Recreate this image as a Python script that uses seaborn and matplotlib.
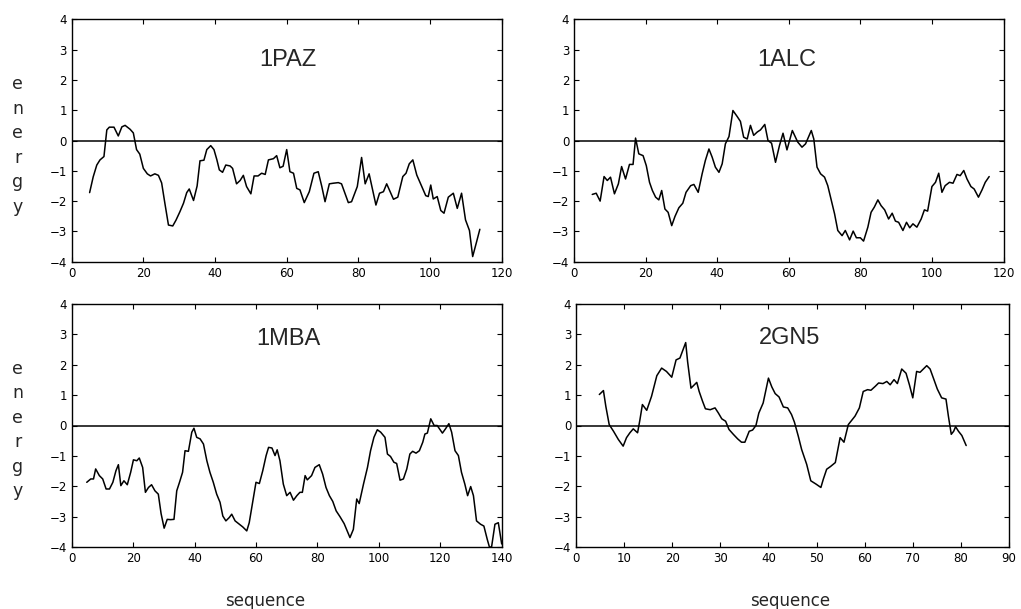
import matplotlib
matplotlib.use("Agg")
import matplotlib.pyplot as plt
import seaborn as sns
import pandas as pd
import numpy as np

# ---------------- data ----------------
titles = ["1PAZ", "1ALC", "1MBA", "2GN5"]
x_limits = [120, 120, 140, 90]
x_steps = [20, 20, 20, 10]
y_ticks = [-4, -3, -2, -1, 0, 1, 2, 3, 4]

paz_x = [5, 6, 7, 7.9, 9, 9.8, 10.5, 11.8, 13, 14,
         14.9, 16.3, 17.2, 18.1, 19, 20, 21.1, 22, 23.2, 24.2,
         25.1, 26, 27, 28.2, 29.1, 30.2, 31.2, 32.1, 32.8, 34,
         35, 35.8, 36.9, 37.7, 38.8, 39.7, 40.5, 41.2, 42.1, 43,
         44.2, 44.9, 46, 47, 47.9, 48.8, 50, 50.9, 52, 53,
         54, 54.9, 56.3, 57.2, 58.1, 59, 60, 60.9, 61.9, 62.8,
         63.7, 64.9, 66.3, 67.6, 68.8, 69.8, 70.7, 71.9, 73, 74.4,
         75.3, 77.2, 78.1, 79.7, 80.9, 81.9, 83, 84.9, 85.9, 87,
         87.9, 89.8, 91, 92.4, 93.3, 94.2, 95.2, 96.3, 97.7, 98.8,
         99.5, 100.2, 100.9, 102, 103, 103.9, 105.1, 106.5, 107.6, 108.8,
         109.9, 111, 111.9, 113, 113.9]
paz_y = [-1.72, -1.2, -0.81, -0.64, -0.53, 0.35, 0.44, 0.44, 0.15, 0.45,
         0.5, 0.37, 0.25, -0.3, -0.45, -0.92, -1.1, -1.17, -1.1, -1.15,
         -1.4, -2.07, -2.79, -2.82, -2.63, -2.35, -2.07, -1.72, -1.6, -1.98,
         -1.5, -0.67, -0.65, -0.3, -0.17, -0.3, -0.63, -0.97, -1.05, -0.81,
         -0.84, -0.92, -1.43, -1.32, -1.15, -1.52, -1.76, -1.17, -1.17, -1.08,
         -1.12, -0.64, -0.6, -0.5, -0.9, -0.85, -0.3, -1.03, -1.08, -1.58,
         -1.63, -2.05, -1.69, -1.08, -1.03, -1.52, -2.02, -1.43, -1.41, -1.39,
         -1.43, -2.05, -2.02, -1.52, -0.56, -1.43, -1.1, -2.13, -1.74, -1.69,
         -1.43, -1.94, -1.87, -1.19, -1.08, -0.77, -0.64, -1.14, -1.52, -1.82,
         -1.85, -1.47, -1.93, -1.85, -2.31, -2.4, -1.87, -1.74, -2.24, -1.74,
         -2.62, -2.97, -3.83, -3.34, -2.93]

alc_x = [5.1, 6.2, 7.3, 8.4, 9.3, 10.2, 11.3, 12.4, 13.3, 14.4,
         15.5, 16.5, 17.2, 18.1, 19.3, 20.2, 21.1, 21.9, 22.8, 23.7,
         24.5, 25.4, 26.3, 27.3, 28.2, 29.3, 30.4, 31.3, 32.6, 33.5,
         34.7, 35.8, 36.7, 37.7, 38.6, 39.5, 40.5, 41.4, 42.3, 43.3,
         44.4, 45.6, 46.5, 47.4, 48.4, 49.3, 50.2, 51.2, 52.1, 53.3,
         54.2, 55.2, 56.3, 57.4, 58.4, 59.5, 61, 62.5, 63.7, 64.7,
         66.3, 67, 67.9, 68.9, 70, 70.9, 71.8, 72.8, 73.7, 74.9,
         75.8, 77, 78, 78.9, 80, 80.9, 82.1, 83, 83.9, 84.9,
         85.8, 86.8, 87.9, 88.9, 89.8, 90.7, 91.9, 92.9, 93.8, 94.7,
         95.8, 97, 97.9, 98.8, 100, 101, 101.9, 102.8, 103.7, 104.9,
         105.9, 107, 107.9, 108.9, 109.8, 110.9, 111.8, 113, 114, 114.9,
         116]
alc_y = [-1.78, -1.74, -2.0, -1.19, -1.32, -1.21, -1.76, -1.43, -0.86, -1.27,
         -0.79, -0.79, 0.08, -0.44, -0.5, -0.83, -1.38, -1.65, -1.87, -1.96,
         -1.65, -2.26, -2.37, -2.81, -2.51, -2.22, -2.07, -1.71, -1.49, -1.45,
         -1.71, -1.1, -0.66, -0.28, -0.55, -0.88, -1.05, -0.77, -0.11, 0.13,
         0.99, 0.79, 0.63, 0.11, 0.05, 0.5, 0.17, 0.28, 0.35, 0.53,
         0.0, -0.09, -0.72, -0.17, 0.24, -0.31, 0.33, -0.05, -0.22, -0.11,
         0.33, 0.05, -0.88, -1.1, -1.21, -1.49, -1.93, -2.42, -2.97, -3.14,
         -2.97, -3.28, -2.99, -3.21, -3.21, -3.32, -2.86, -2.37, -2.2, -1.96,
         -2.15, -2.29, -2.59, -2.4, -2.66, -2.7, -2.97, -2.7, -2.88, -2.75,
         -2.86, -2.59, -2.29, -2.33, -1.52, -1.38, -1.08, -1.71, -1.49, -1.38,
         -1.41, -1.12, -1.16, -0.99, -1.27, -1.52, -1.6, -1.87, -1.63, -1.38,
         -1.19]

mba_x = [4.9, 6.2, 7.1, 7.8, 9, 10.1, 11.2, 12.3, 13.4, 14.4,
         15.2, 16, 17, 18.1, 19.2, 20.1, 21.2, 22, 23.1, 24,
         25, 26, 27.1, 28.2, 29.1, 30.1, 31.1, 32.2, 33.3, 34.2,
         35.1, 36.1, 36.9, 38, 39.1, 39.8, 40.7, 41.8, 42.9, 44,
         45, 46.1, 47.2, 48.3, 49.2, 50.2, 51.3, 52.1, 53.2, 54.3,
         55.7, 57, 57.8, 58.9, 60, 61.1, 62.2, 63.3, 64.1, 65.2,
         66.2, 66.9, 67.8, 68.9, 70, 71.1, 72.2, 73.3, 74.3, 75.1,
         76, 76.7, 78.1, 79.2, 80.6, 81.7, 82.8, 83.9, 85, 86.1,
         87.4, 88.7, 89.7, 90.6, 91.7, 92.8, 93.6, 95, 96.3, 97.3,
         98.4, 99.5, 100.6, 102, 102.8, 103.8, 104.9, 105.8, 106.9, 108,
         109.1, 110.1, 111, 112.1, 113.2, 114.3, 115, 115.8, 116.9, 118,
         119, 120.7, 121.7, 122.8, 123.7, 124.8, 125.9, 126.9, 128, 128.9,
         129.9, 130.8, 131.8, 133.1, 134.2, 135.3, 136, 136.7, 137.8, 138.9,
         140]
mba_y = [-1.87, -1.76, -1.76, -1.43, -1.65, -1.76, -2.09, -2.09, -1.87, -1.49,
         -1.29, -1.98, -1.82, -1.95, -1.54, -1.13, -1.16, -1.07, -1.38, -2.2,
         -2.04, -1.95, -2.15, -2.26, -2.9, -3.38, -3.09, -3.1, -3.09, -2.15,
         -1.87, -1.54, -0.83, -0.85, -0.22, -0.09, -0.39, -0.44, -0.61, -1.16,
         -1.54, -1.87, -2.26, -2.53, -2.98, -3.14, -3.03, -2.92, -3.14, -3.23,
         -3.34, -3.47, -3.2, -2.53, -1.87, -1.91, -1.49, -0.99, -0.72, -0.74,
         -0.99, -0.8, -1.16, -1.93, -2.31, -2.2, -2.46, -2.31, -2.2, -2.2,
         -1.65, -1.79, -1.65, -1.38, -1.29, -1.6, -2.04, -2.31, -2.5, -2.81,
         -3.01, -3.23, -3.47, -3.69, -3.42, -2.42, -2.57, -1.93, -1.38, -0.83,
         -0.39, -0.14, -0.22, -0.39, -0.94, -1.02, -1.21, -1.25, -1.8, -1.76,
         -1.43, -0.94, -0.85, -0.91, -0.83, -0.55, -0.28, -0.25, 0.22, 0.0,
         0.0, -0.25, -0.11, 0.06, -0.22, -0.83, -0.99, -1.54, -1.93, -2.31,
         -2.01, -2.31, -3.14, -3.25, -3.31, -3.75, -4.0, -4.0, -3.25, -3.2,
         -3.9]

gn5_x = [4.85, 5.7, 6.2, 6.9, 7.8, 8.8, 9.8, 10.5, 11.2, 11.9,
         12.8, 13.3, 13.8, 14.7, 15.7, 16.8, 17.8, 18.8, 19.9, 20.8,
         21.6, 22.8, 23.2, 23.9, 24.6, 25.1, 25.6, 26.3, 26.9, 27.9,
         28.9, 29.6, 30.3, 31.1, 31.8, 32.7, 33.6, 34.4, 35.1, 36,
         36.7, 37.4, 38, 38.9, 40, 40.7, 41.4, 42.2, 43.1, 44,
         44.8, 45.4, 46.2, 46.9, 47.95, 48.8, 49.9, 50.9, 51.4, 52.1,
         52.9, 53.9, 54.9, 55.7, 56.6, 57.3, 58, 58.9, 59.7, 60.6,
         61.3, 62.2, 62.9, 63.8, 64.6, 65.3, 66.1, 66.8, 67.7, 68.6,
         69.3, 70, 70.8, 71.5, 72.2, 72.9, 73.6, 74.4, 75.1, 76,
         76.9, 77.4, 78, 78.5, 78.9, 79.5, 80.2, 81.1]
gn5_y = [1.02, 1.15, 0.63, 0.03, -0.19, -0.46, -0.68, -0.4, -0.24, -0.11,
         -0.24, 0.2, 0.69, 0.5, 0.96, 1.64, 1.89, 1.78, 1.59, 2.16,
         2.22, 2.73, 2.1, 1.23, 1.34, 1.42, 1.12, 0.8, 0.55, 0.52,
         0.58, 0.41, 0.22, 0.14, -0.13, -0.29, -0.44, -0.55, -0.55, -0.19,
         -0.15, 0.0, 0.41, 0.74, 1.56, 1.27, 1.05, 0.94, 0.61, 0.58,
         0.36, 0.11, -0.35, -0.79, -1.28, -1.82, -1.93, -2.04, -1.77, -1.44,
         -1.35, -1.22, -0.4, -0.55, 0.03, 0.17, 0.31, 0.58, 1.12, 1.18,
         1.16, 1.29, 1.4, 1.38, 1.45, 1.34, 1.51, 1.38, 1.86, 1.72,
         1.34, 0.91, 1.78, 1.75, 1.86, 1.97, 1.86, 1.51, 1.2, 0.91,
         0.87, 0.31, -0.29, -0.19, -0.04, -0.19, -0.33, -0.66]

series_x = [paz_x, alc_x, mba_x, gn5_x]
series_y = [paz_y, alc_y, mba_y, gn5_y]

# ---------------- styling / layout ----------------
sns.set_style("ticks")
plt.rcParams["font.family"] = ["DejaVu Sans"]

W, H = 1021, 609
fig = plt.figure(figsize=(W / 100, H / 100), dpi=100)

# axes boxes in pixels: (left, top, right, bottom)
boxes = [(71.7, 19.3, 501.7, 261.7),
         (574.0, 19.3, 1003.5, 261.7),
         (71.7, 304.0, 501.7, 547.0),
         (576.0, 304.0, 1009.0, 547.0)]
title_pos = [(0.503, 0.833), (0.495, 0.833), (0.503, 0.857), (0.494, 0.86)]

for i in range(4):
    l, t, r, b = boxes[i]
    ax = fig.add_axes([l / W, 1 - b / H, (r - l) / W, (b - t) / H])
    df = pd.DataFrame({"seq": series_x[i], "energy": series_y[i]})
    sns.lineplot(data=df, x="seq", y="energy", ax=ax, sort=False,
                 estimator=None, color="black", linewidth=1.1)
    ax.axhline(0, color="black", linewidth=1.1)
    ax.set_xlim(0, x_limits[i])
    ax.set_ylim(-4, 4)
    ax.set_xticks(np.arange(0, x_limits[i] + 1, x_steps[i]))
    ax.set_yticks(y_ticks)
    ax.set_xlabel("")
    ax.set_ylabel("")
    ax.tick_params(direction="in", top=True, right=True, length=3.6,
                   width=0.8, labelsize=8.5, colors="black", pad=3.5)
    for sp in ax.spines.values():
        sp.set_visible(True)
        sp.set_linewidth(1.0)
        sp.set_color("black")
    tx, ty = title_pos[i]
    ax.text(tx, ty, titles[i], transform=ax.transAxes, ha="center",
            va="center", fontsize=17, family=["Liberation Sans", "DejaVu Sans"])

# stacked "energy" letters on the left
letters = list("energy")
for group_offset in (0.0, 284.7):
    for k, ch in enumerate(letters):
        ybase = 89 + 24.5 * k + group_offset
        fig.text(17.5 / W, 1 - ybase / H, ch, ha="center", va="baseline",
                 fontsize=12.5)

# "sequence" labels at the bottom
for cx in (265.5, 790.0):
    fig.text(cx / W, 1 - 606 / H, "sequence", ha="center", va="baseline",
             fontsize=12)

fig.savefig("out.png", dpi=100)
